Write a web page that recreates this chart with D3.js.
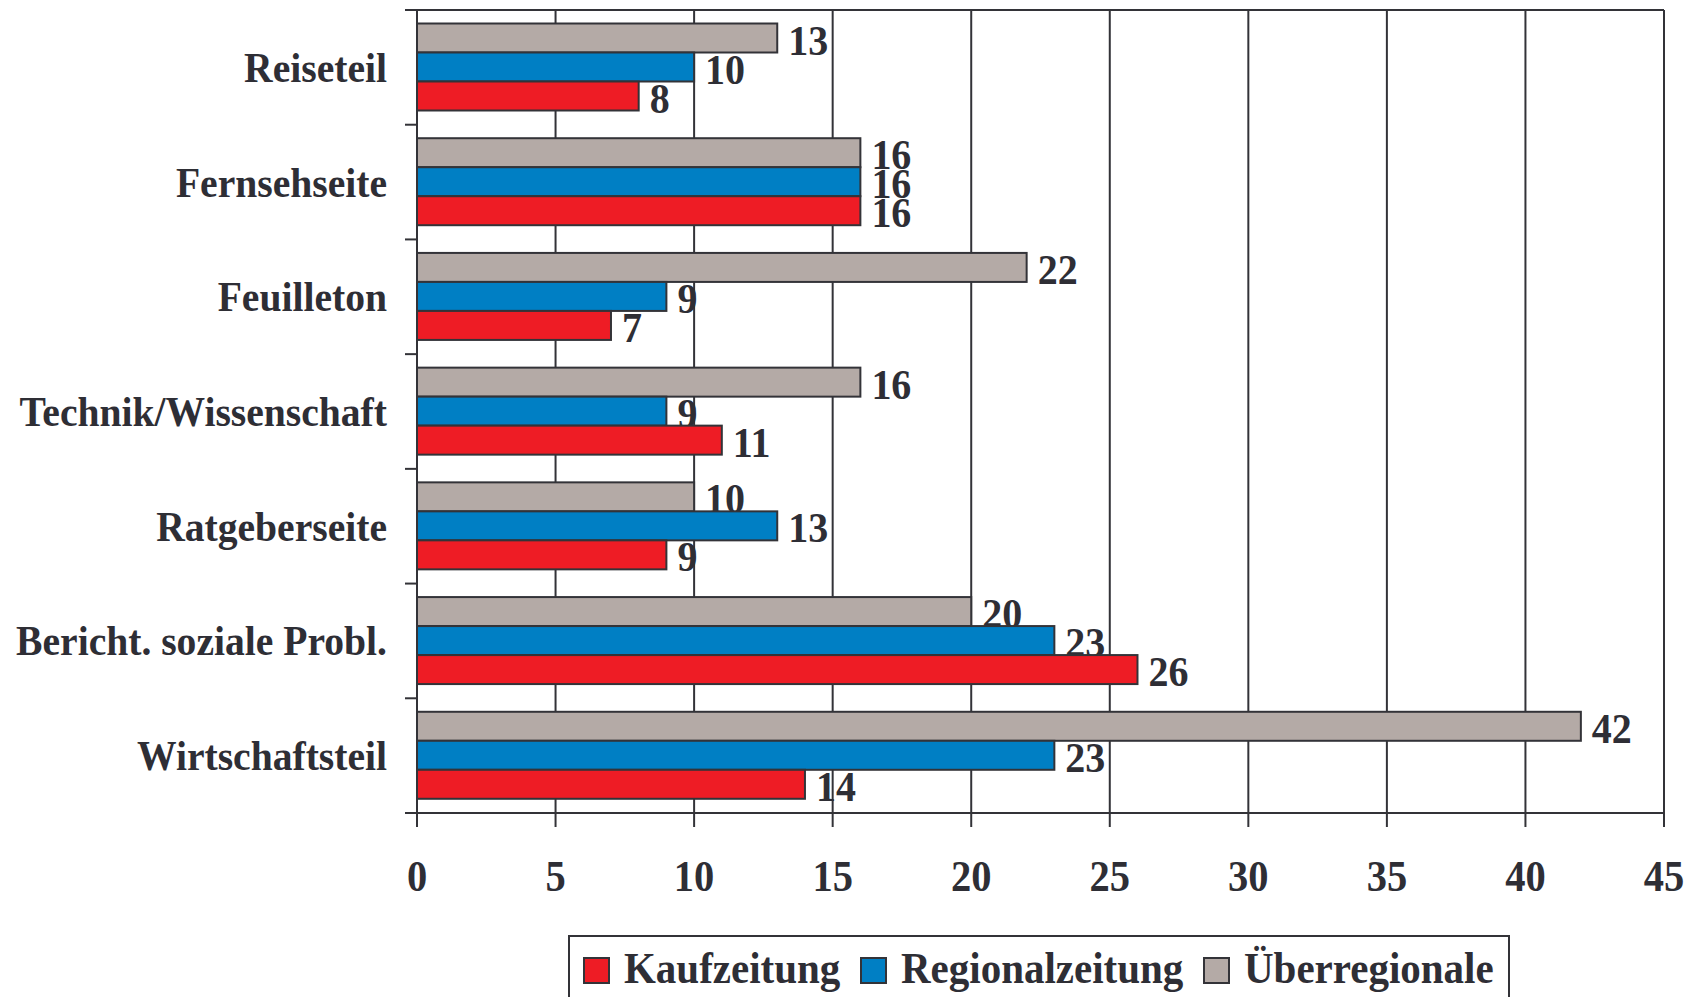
<!DOCTYPE html>
<html>
<head>
<meta charset="utf-8">
<script src="https://cdn.jsdelivr.net/npm/d3@7/dist/d3.min.js"></script>
<style>
  html, body { margin: 0; padding: 0; background: #fff; }
  svg { display: block; }
  text { font-family: "Liberation Serif", "Times New Roman", serif; font-weight: bold; fill: #2e2e35; }
</style>
</head>
<body>
<svg id="chart" width="1693" height="997"></svg>
<script>
// ---- data ----
const categories = ["Reiseteil", "Fernsehseite", "Feuilleton", "Technik/Wissenschaft", "Ratgeberseite", "Bericht. soziale Probl.", "Wirtschaftsteil"];
const seriesNames = ["Kaufzeitung", "Regionalzeitung", "Überregionale"];
const kaufzeitung     = [8, 16, 7, 11, 9, 26, 14];
const regionalzeitung = [10, 16, 9, 9, 13, 23, 23];
const ueberregionale  = [13, 16, 22, 16, 10, 20, 42];
const xTicks = [0, 5, 10, 15, 20, 25, 30, 35, 40, 45];
const colors = { "Kaufzeitung": "#ee1c25", "Regionalzeitung": "#007fc4", "Überregionale": "#b4aaa6" };

(function () {
const seriesValues = { "Kaufzeitung": kaufzeitung, "Regionalzeitung": regionalzeitung, "Überregionale": ueberregionale };
// order within a group (top to bottom)
const groupOrder = ["Überregionale", "Regionalzeitung", "Kaufzeitung"];

const svg = d3.select("#chart");
const pL = 417, pR = 1664, pT = 10, pB = 813;
const ink = "#333338";
const stretch = 1.07;
const tf = (px, py) => `translate(${px},${py}) scale(1,${stretch})`;

const x = d3.scaleLinear().domain([0, 45]).range([pL, pR]);
const y = d3.scaleBand().domain(categories).range([pT, pB]).padding(0);
const y1 = d3.scaleBand().domain(groupOrder).range([13.5, 100.5]).padding(0);

// gridlines
svg.append("g").selectAll("line").data(xTicks.filter(t => t > 0)).join("line")
  .attr("x1", d => x(d)).attr("x2", d => x(d))
  .attr("y1", pT).attr("y2", pB)
  .attr("stroke", ink).attr("stroke-width", 2);
// top border
svg.append("line").attr("x1", pL - 12).attr("x2", pR).attr("y1", pT).attr("y2", pT)
  .attr("stroke", ink).attr("stroke-width", 2);

// bars + labels, series by series
groupOrder.forEach(s => {
  const vals = seriesValues[s];
  const g = svg.append("g");
  g.selectAll("rect").data(categories).join("rect")
    .attr("x", x(0))
    .attr("y", (c) => y(c) + y1(s))
    .attr("width", (c, i) => x(vals[i]) - x(0))
    .attr("height", y1.bandwidth())
    .attr("fill", colors[s])
    .attr("stroke", ink).attr("stroke-width", 2);
  g.selectAll("text").data(categories).join("text")
    .attr("transform", (c, i) => tf(x(vals[i]) + 11, y(c) + y1(s) + y1.bandwidth() + 2))
    .attr("font-size", 40)
    .text((c, i) => vals[i]);
});

// x axis
svg.append("line").attr("x1", pL).attr("x2", pR).attr("y1", pB).attr("y2", pB)
  .attr("stroke", ink).attr("stroke-width", 2);
svg.append("g").selectAll("line").data(xTicks).join("line")
  .attr("x1", d => x(d)).attr("x2", d => x(d))
  .attr("y1", pB).attr("y2", pB + 14)
  .attr("stroke", ink).attr("stroke-width", 2);
svg.append("g").selectAll("text").data(xTicks).join("text")
  .attr("transform", d => tf(x(d), 891))
  .attr("text-anchor", "middle").attr("font-size", 40.5)
  .text(d => d);

// y axis
svg.append("line").attr("x1", pL).attr("x2", pL).attr("y1", pT).attr("y2", pB + 14)
  .attr("stroke", ink).attr("stroke-width", 2);
const yTickPos = categories.map(c => y(c)).concat([y(categories[categories.length - 1]) + y.bandwidth()]);
svg.append("g").selectAll("line").data(yTickPos).join("line")
  .attr("x1", pL - 12).attr("x2", pL)
  .attr("y1", d => d).attr("y2", d => d)
  .attr("stroke", ink).attr("stroke-width", 2);
svg.append("g").selectAll("text").data(categories).join("text")
  .attr("transform", c => tf(387, y(c) + y.bandwidth() / 2 + 14.5))
  .attr("text-anchor", "end").attr("font-size", 39.6)
  .text(c => c);

// legend
const lg = svg.append("g");
lg.append("rect").attr("x", 569).attr("y", 936).attr("width", 940).attr("height", 90)
  .attr("fill", "#fff").attr("stroke", ink).attr("stroke-width", 2);
const legendX = { "Kaufzeitung": 584, "Regionalzeitung": 861, "Überregionale": 1204 };
seriesNames.forEach(s => {
  lg.append("rect").attr("x", legendX[s]).attr("y", 958).attr("width", 25).attr("height", 25)
    .attr("fill", colors[s]).attr("stroke", ink).attr("stroke-width", 2);
  lg.append("text").attr("transform", tf(legendX[s] + 40, 983)).attr("font-size", 41).text(s);
});
})();
</script>
</body>
</html>
